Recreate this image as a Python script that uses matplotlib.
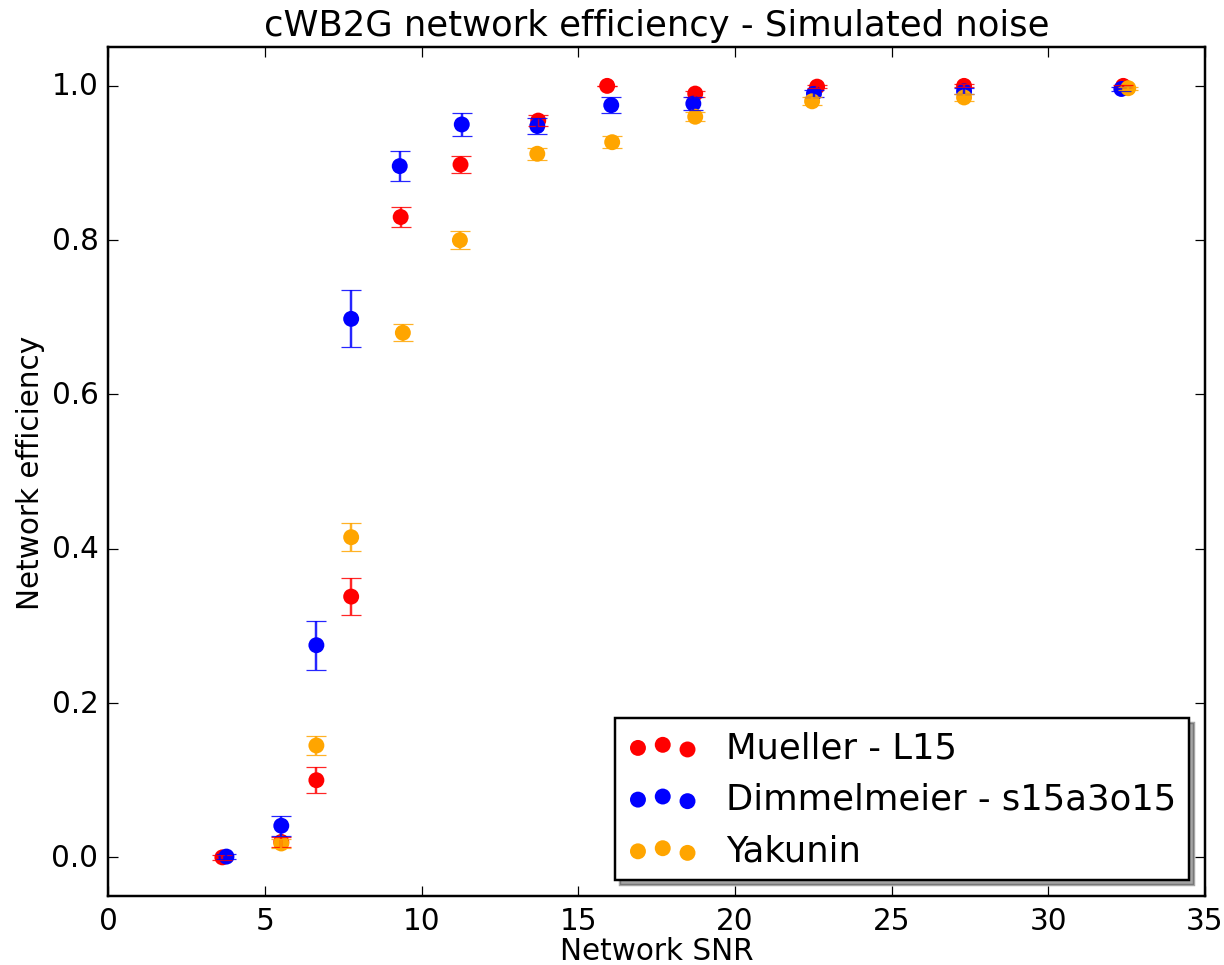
import numpy as np
import matplotlib
matplotlib.use('Agg')
import matplotlib.pyplot as plt

plt.style.use('classic')

# data
snr_mueller = [3.64, 5.52, 6.64, 7.75, 9.33, 11.24, 13.72, 15.92, 18.73, 22.62, 27.31, 32.39]
eff_mueller = [0.0, 0.02, 0.100, 0.338, 0.830, 0.898, 0.955, 1.000, 0.990, 0.999, 1.000, 1.000]
err_mueller = [0.003, 0.007, 0.017, 0.024, 0.013, 0.011, 0.007, 0.0, 0.004, 0.002, 0.002, 0.001]

snr_dimm = [3.77, 5.52, 6.64, 7.75, 9.30, 11.28, 13.69, 16.05, 18.67, 22.52, 27.31, 32.33]
eff_dimm = [0.001, 0.041, 0.275, 0.698, 0.896, 0.950, 0.948, 0.975, 0.977, 0.990, 0.993, 0.996]
err_dimm = [0.003, 0.013, 0.032, 0.037, 0.019, 0.015, 0.011, 0.010, 0.008, 0.005, 0.004, 0.003]

# lowest Yakunin point is hidden behind the others in the reference
snr_yak = [5.52, 6.64, 7.75, 9.40, 11.22, 13.69, 16.08, 18.73, 22.46, 27.31, 32.55]
eff_yak = [0.018, 0.145, 0.415, 0.680, 0.800, 0.912, 0.927, 0.960, 0.980, 0.985, 0.997]
err_yak = [0.006, 0.012, 0.018, 0.011, 0.012, 0.008, 0.008, 0.006, 0.005, 0.004, 0.002]

labels = ['Mueller - L15', 'Dimmelmeier - s15a3o15', 'Yakunin']
colors = ['red', 'blue', 'orange']

fig = plt.figure(figsize=(1224 / 177., 966 / 177.), dpi=177, facecolor='white')
ax = fig.add_subplot(111)
fig.subplots_adjust(left=0.0885, right=0.9845, top=0.950, bottom=0.0715)

series = [(snr_mueller, eff_mueller, err_mueller),
          (snr_dimm, eff_dimm, err_dimm),
          (snr_yak, eff_yak, err_yak)]

for (x, y, e), col, lab in zip(series, colors, labels):
    ax.scatter(x, y, s=42, color=col, edgecolors='none', label=lab, zorder=3)
for (x, y, e), col in zip(series, colors):
    ax.errorbar(x, y, yerr=e, fmt='none', ecolor=col, capsize=4, elinewidth=1.0,
                alpha=0.85, zorder=4)

ax.set_xlim(0, 35)
ax.set_ylim(-0.05, 1.05)
ax.set_xticks(np.arange(0, 36, 5))
ax.set_yticks(np.arange(0, 1.01, 0.2))
ax.set_xlabel('Network SNR', labelpad=0.5)
ax.set_ylabel('Network efficiency', labelpad=2.5)
ax.set_title('cWB2G network efficiency - Simulated noise', fontsize=14.4)

ax.legend(loc='lower right', shadow=True, fontsize=14.4, scatterpoints=3,
          borderpad=0.35, borderaxespad=0.45)

plt.savefig('out.png', dpi=177, facecolor='white')
